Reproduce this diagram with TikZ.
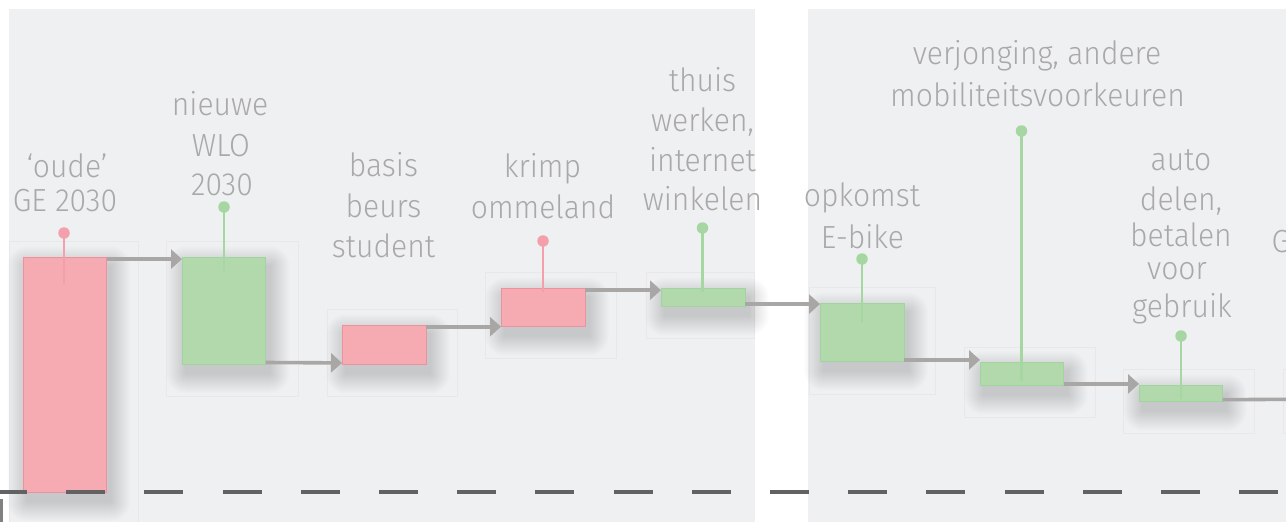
\documentclass[tikz,border=0pt]{standalone}
\usepackage{fontspec}
\setmainfont{Fira Sans Light}[FakeStretch=0.94]
\usetikzlibrary{arrows.meta}
\definecolor{panel}{HTML}{EFF0F2}
\definecolor{framec}{HTML}{E8E8EA}
\definecolor{txt}{HTML}{A9A9A9}
\definecolor{redfill}{HTML}{F6AAB2}
\definecolor{redline}{HTML}{EE909E}
\definecolor{redpin}{HTML}{F4A0AC}
\definecolor{greenfill}{HTML}{B2D9AC}
\definecolor{greenline}{HTML}{A3D39E}
\definecolor{greenpin}{HTML}{A6D6A1}
\definecolor{arrowc}{HTML}{A9A7A5}
\definecolor{dashc}{HTML}{626262}
\pgfdeclarelayer{bg}
\pgfdeclarelayer{shade}
\pgfsetlayers{bg,shade,main}
\tikzset{
  lbl/.style={anchor=base, text=txt, inner sep=0pt, font=\fontsize{32}{40}\selectfont},
  bar/.style={line width=0.8pt, inner sep=0pt, outer sep=0pt, anchor=north west},
  redbar/.style={bar, fill=redfill, draw=redline},
  greenbar/.style={bar, fill=greenfill, draw=greenline},
  pinhead/.style={circle, inner sep=0pt, minimum size=11.5pt},
  redpinhead/.style={pinhead, fill=redpin},
  greenpinhead/.style={pinhead, fill=greenpin},
  redstem/.style={draw=redpin, line width=2.4pt},
  greenstem/.style={draw=greenpin, line width=2.4pt},
  flow/.style={draw=arrowc, line width=3.6pt, -{Triangle[length=11pt,width=19pt]}},
  flowend/.style={draw=arrowc, line width=3.6pt},
  faint/.style={draw=framec, line width=0.8pt},
  panelbox/.style={fill=panel},
  shadelayer/.style={fill=black, opacity=0.0065},
}
\newcommand{\softshade}[1]{%
  \begin{pgfonlayer}{shade}
  \foreach \e in {1,...,20}{%
    \fill[shadelayer, rounded corners=\e pt] ([shift={(4-\e,9-\e)}]#1.north west) rectangle ([shift={(4+\e,9+\e)}]#1.south east);
  }
  \end{pgfonlayer}}
\begin{document}
\begin{tikzpicture}[x=1pt,y=-1pt]
\useasboundingbox (0,0) rectangle (1286,522);
\clip (0,0) rectangle (1286,522);
\begin{pgfonlayer}{bg}
% panels
\fill[panelbox] (9,9) rectangle (755,522);
\fill[panelbox] (808,9) rectangle (1286,522);
% faint frames
\draw[faint] (9,241) rectangle (138,522);
\draw[faint] (166,241) rectangle (298,396);
\draw[faint] (327,309) rectangle (457,396);
\draw[faint] (485,272) rectangle (616,358);
\draw[faint] (646,272) rectangle (754.5,338);
\draw[faint] (809,287) rectangle (935,394);
\draw[faint] (964,347) rectangle (1095,417);
\draw[faint] (1123,369) rectangle (1254,433);
\draw[faint] (1283,369) rectangle (1300,433);
\fill[dashc!80] (0,499) rectangle (3,522);
\end{pgfonlayer}
% bars
\node[redbar, minimum width=83.4pt, minimum height=235pt] (b1) at (23.3,257.3) {};
\node[greenbar, minimum width=83.7pt, minimum height=107pt] (b2) at (182,257.3) {};
\node[redbar, minimum width=84pt, minimum height=39.7pt] (b3) at (342,325) {};
\node[redbar, minimum width=84pt, minimum height=38pt] (b4) at (501,288.7) {};
\node[greenbar, minimum width=84pt, minimum height=18pt] (b5) at (661,288.7) {};
\node[greenbar, minimum width=84pt, minimum height=58.4pt] (b6) at (820,303.3) {};
\node[greenbar, minimum width=83.7pt, minimum height=23.4pt] (b7) at (980,362.3) {};
\node[greenbar, minimum width=83.7pt, minimum height=16.4pt] (b8) at (1139,385.3) {};
\softshade{b1}\softshade{b2}\softshade{b3}\softshade{b4}
\softshade{b5}\softshade{b6}\softshade{b7}\softshade{b8}
% flow arrows
\draw[flow] ([yshift=-1.8pt]b1.north east) -- ([yshift=-1.8pt]b2.north west);
\draw[flow] ([yshift=1.8pt]b2.south east) -- ([yshift=1.8pt]b3.south west);
\draw[flow] (b3.north east |- b4.south west) -- (b4.south west);
\draw[flow] ([yshift=-1.5pt]b4.north east) -- ([yshift=-1.5pt]b5.north west);
\draw[flow] ([yshift=-0.8pt]b5.south east |- b6.north west) -- ([yshift=-0.8pt]b6.north west);
\draw[flow] ([yshift=1.8pt]b6.south east) -- ([yshift=1.8pt]b6.south east -| b7.west);
\draw[flow] ([yshift=1.8pt]b7.south east) -- ([yshift=1.8pt]b7.south east -| b8.west);
\coordinate (tail) at (1290,399.3);
\draw[flowend] ([yshift=2pt]b8.south east) -- (tail);
% baseline
\coordinate (dl) at (-12,492);
\coordinate (dr) at (1300,492);
\draw[dashc, line width=3.5pt, dash pattern=on 39pt off 39.2pt] (dl) -- (dr);
% pins
\coordinate (s1) at (64,284);
\node[redpinhead] (p1) at (64,233) {};
\draw[redstem] (p1.center) -- (s1);
\coordinate (s2) at (224,271);
\node[greenpinhead] (p2) at (224,207) {};
\draw[greenstem] (p2.center) -- (s2);
\coordinate (s4) at (543,292);
\node[redpinhead] (p4) at (543,241) {};
\draw[redstem] (p4.center) -- (s4);
\coordinate (s5) at (702.5,292);
\node[greenpinhead] (p5) at (702.5,228) {};
\draw[greenstem] (p5.center) -- (s5);
\coordinate (s6) at (862,323);
\node[greenpinhead] (p6) at (862,259) {};
\draw[greenstem] (p6.center) -- (s6);
\coordinate (s7) at (1021.5,381);
\node[greenpinhead] (p7) at (1021.5,131) {};
\draw[greenstem] (p7.center) -- (s7);
\coordinate (s8) at (1181,399);
\node[greenpinhead] (p8) at (1181,336) {};
\draw[greenstem] (p8.center) -- (s8);
% labels
\node[lbl] (t1a) at (67,177.7) {‘oude’};
\node[lbl] (t1b) at (65,211.7) {GE 2030};
\node[lbl] (t2a) at (220,115) {nieuwe};
\node[lbl] (t2b) at (221,156.7) {WLO};
\node[lbl] (t2c) at (222,195) {2030};
\node[lbl] (t3a) at (383.5,176.7) {basis};
\node[lbl] (t3b) at (383.5,217) {beurs};
\node[lbl] (t3c) at (383.5,257.7) {student};
\node[lbl] (t4a) at (542.5,177.7) {krimp};
\node[lbl] (t4b) at (543,218.3) {ommeland};
\node[lbl] (t5a) at (702.5,91.7) {thuis};
\node[lbl] (t5b) at (702.5,131.7) {werken,};
\node[lbl] (t5c) at (702.5,171) {internet};
\node[lbl] (t5d) at (702.5,210.7) {winkelen};
\node[lbl] (t6a) at (862,206.7) {opkomst};
\node[lbl] (t6b) at (862.5,248.3) {E-bike};
\node[lbl] (t7a) at (1037,64.3) {verjonging, andere};
\node[lbl] (t7b) at (1037.5,106) {mobiliteitsvoorkeuren};
\node[lbl] (t8a) at (1181,170) {auto};
\node[lbl] (t8b) at (1181,210.7) {delen,};
\node[lbl] (t8c) at (1181,246) {betalen};
\node[lbl] (t8d) at (1177,279.3) {voor};
\node[lbl] (t8e) at (1182,317.7) {gebruik};
\node[lbl, anchor=base west] (t9) at (1271.5,252) {G};
\end{tikzpicture}
\end{document}
